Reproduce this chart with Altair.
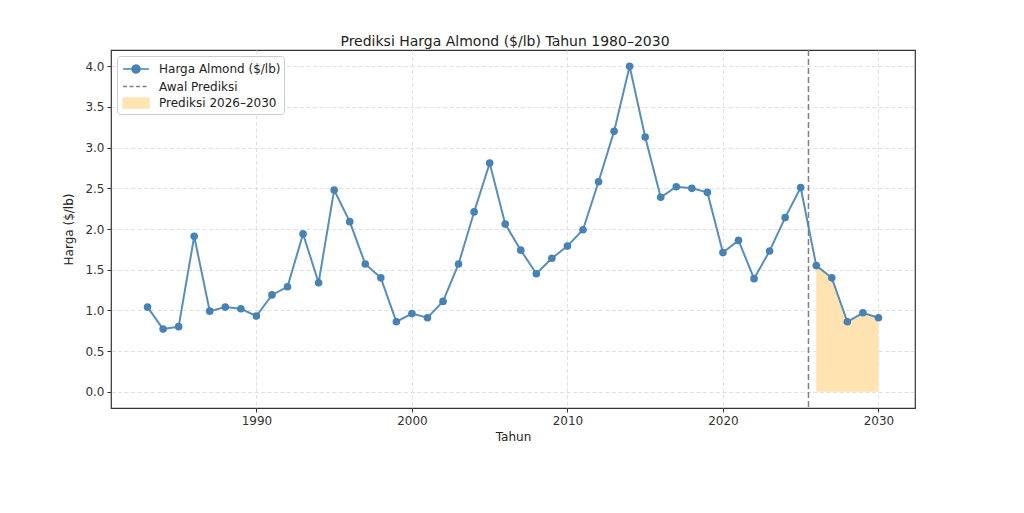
import altair as alt
import pandas as pd

years = list(range(1983, 2031))
prices = [1.04, 0.77, 0.80, 1.91, 0.99, 1.04, 1.02, 0.93, 1.19, 1.29,
          1.94, 1.34, 2.48, 2.09, 1.57, 1.40, 0.86, 0.96, 0.91, 1.11,
          1.57, 2.21, 2.81, 2.06, 1.74, 1.45, 1.64, 1.79, 1.99, 2.58,
          3.20, 4.00, 3.13, 2.39, 2.52, 2.50, 2.45, 1.71, 1.86, 1.39,
          1.73, 2.14, 2.51, 1.55, 1.40, 0.86, 0.97, 0.91]
forecast_years = [2026, 2027, 2028, 2029, 2030]
forecast_start = 2025.5

x_ticks = [1990, 2000, 2010, 2020, 2030]
y_ticks = [0.0, 0.5, 1.0, 1.5, 2.0, 2.5, 3.0, 3.5, 4.0]

lbl_line = "Harga Almond ($/lb)"
lbl_rule = "Awal Prediksi"
lbl_area = "Prediksi 2026–2030"

df = pd.DataFrame({"Tahun": years, "Harga": prices, "Seri": lbl_line})
df_fc = df[df["Tahun"].isin(forecast_years)].assign(Seri=lbl_area)
df_rule = pd.DataFrame({"x": [forecast_start], "Seri": [lbl_rule]})

FONT = "DejaVu Sans"
BLUE = "#4682b4"
ORANGE = "#ffe4b2"

xs = alt.Scale(domain=[1980.65, 2032.35], nice=False, zero=False)
ys = alt.Scale(domain=[-0.2, 4.2], nice=False, zero=False)

shape_sig = (
    f"datum.value === '{lbl_rule}' ? 'M-1.44,0H1.44' : "
    f"datum.value === '{lbl_area}' ? 'M-1.44,-0.55H1.44V0.55H-1.44Z' : "
    "'M-1.44,0H1.44M-0.44,0A0.44,0.44 0 1,0 0.44,0A0.44,0.44 0 1,0 -0.44,0'"
)
fill_sig = (
    f"datum.value === '{lbl_rule}' ? 'transparent' : "
    f"datum.value === '{lbl_area}' ? '{ORANGE}' : '{BLUE}'"
)
stroke_sig = (
    f"datum.value === '{lbl_rule}' ? 'gray' : "
    f"datum.value === '{lbl_area}' ? '{ORANGE}' : '{BLUE}'"
)
dash_sig = f"datum.value === '{lbl_rule}' ? [4, 2.5] : [1, 0]"

color_scale = alt.Scale(domain=[lbl_line, lbl_rule, lbl_area],
                        range=[BLUE, "gray", ORANGE])
legend = alt.Legend(
    title=None, orient="top-left", offset=6,
    fillColor="white", strokeColor="#cccccc", cornerRadius=3,
    padding=3, rowPadding=0.5, labelOffset=13, symbolOffset=6,
    labelFont=FONT, labelFontSize=12, labelColor="#222222",
    labelExpr="datum.label + '\u00a0\u00a0\u00a0'",
    symbolSize=324, symbolStrokeWidth=1.5, symbolOpacity=1,
    symbolType={"expr": shape_sig},
    symbolFillColor={"expr": fill_sig},
    symbolStrokeColor={"expr": stroke_sig},
    symbolDash={"expr": dash_sig},
)
color = alt.Color("Seri:N", scale=color_scale, legend=legend,
                  sort=[lbl_line, lbl_rule, lbl_area])

x_enc = alt.X("Tahun:Q", scale=xs, title="Tahun",
              axis=alt.Axis(values=x_ticks, format="d"))
y_enc = alt.Y("Harga:Q", scale=ys, title="Harga ($/lb)",
              axis=alt.Axis(values=y_ticks, format=".1f", titlePadding=9))

area = alt.Chart(df_fc).mark_area(opacity=1).encode(
    x=x_enc, y=y_enc, y2=alt.datum(0), color=color,
)
rule = alt.Chart(df_rule).mark_rule(strokeDash=[6, 3], strokeWidth=1.5).encode(
    x=alt.X("x:Q", scale=xs), color=color,
)
line = alt.Chart(df).mark_line(strokeWidth=2, opacity=0.9).encode(
    x=x_enc, y=y_enc, color=color,
)
points = alt.Chart(df).mark_circle(size=58, opacity=1).encode(
    x=x_enc, y=y_enc, color=color,
)

chart = alt.layer(area, rule, line, points).properties(
    width=804, height=358,
    title=alt.TitleParams("Prediksi Harga Almond ($/lb) Tahun 1980–2030",
                          font=FONT, fontSize=14, fontWeight="normal",
                          color="#222222", offset=0, dx=-8),
    autosize=alt.AutoSizeParams(type="none"),
    padding={"left": 103, "top": 42, "right": 10, "bottom": 50},
).configure_view(
    stroke="#333333", strokeWidth=1.2,
).configure_axis(
    labelFont=FONT, titleFont=FONT, labelFontSize=12, titleFontSize=12,
    labelColor="#333333", titleColor="#222222", titleFontWeight="normal",
    grid=True, gridColor="#d9d9d9", gridDash=[4, 2.5], gridWidth=0.8,
    domain=False, tickColor="#333333", tickSize=4, labelPadding=3,
    titlePadding=5,
)

chart.save("out.html", embed_options={"renderer": "svg", "actions": False})
